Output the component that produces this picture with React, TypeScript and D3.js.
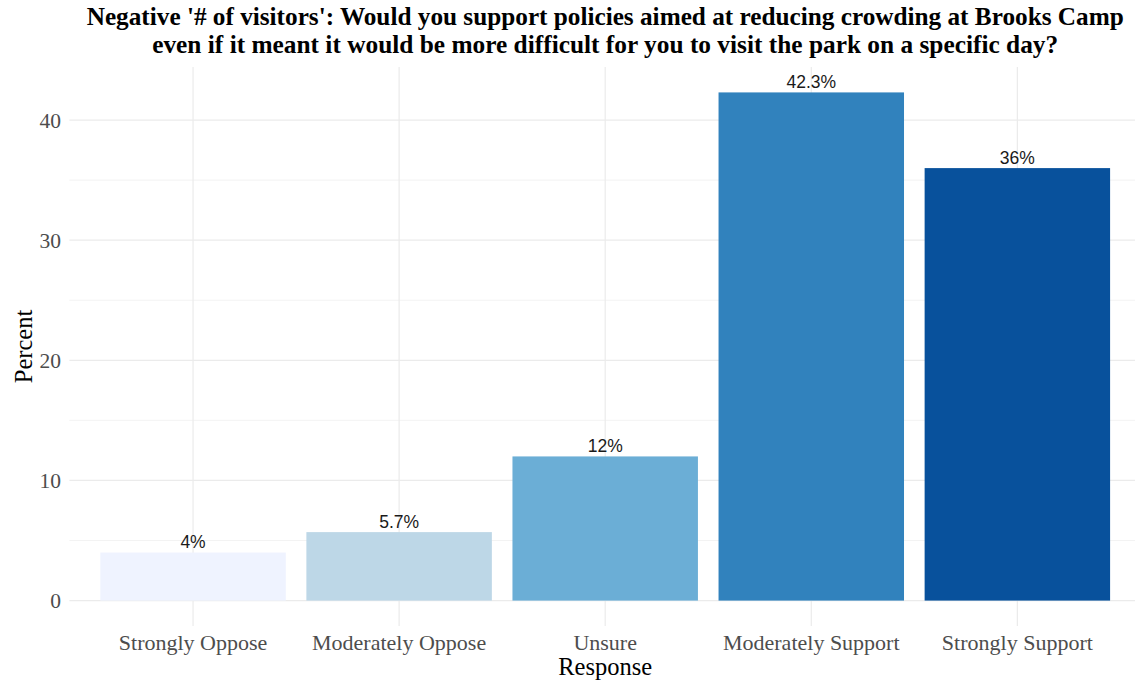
import React from "react";
import * as d3 from "d3";

const categories = ["Strongly Oppose", "Moderately Oppose", "Unsure", "Moderately Support", "Strongly Support"];
const values = [4, 5.7, 12, 42.3, 36];
const valueLabels = ["4%", "5.7%", "12%", "42.3%", "36%"];
const colors = ["#EFF3FF", "#BDD7E7", "#6BAED6", "#3182BD", "#08519C"];
const yTicks = [0, 10, 20, 30, 40];
const yMinor = [5, 15, 25, 35];
const titleLines = [
  "Negative '# of visitors': Would you support policies aimed at reducing crowding at Brooks Camp",
  "even if it meant it would be more difficult for you to visit the park on a specific day?",
];
const titleWidths = [1037, 906];

const W = 1135;
const H = 681;
const panel = { left: 69.4, right: 1141, top: 67, bottom: 626 };
const serif = "'Liberation Serif', 'Times New Roman', serif";
const sans = "'Liberation Sans', Arial, sans-serif";

export default function App() {
  const maxV = d3.max(values) as number;
  const pad = maxV * 0.05;
  const y = d3.scaleLinear().domain([-pad, maxV + pad]).range([panel.bottom, panel.top]);
  const x = d3.scaleBand<string>().domain(categories).range([panel.left, panel.right]).paddingInner(0.1).paddingOuter(0.15);
  const cx = (c: string) => (x(c) as number) + x.bandwidth() / 2;
  const titleX = (panel.left + panel.right) / 2;

  return (
    <svg width={W} height={H} style={{ position: "absolute", left: 0, top: 0, background: "#fff" }}>
      <rect x={0} y={0} width={W} height={H} fill="#fff" />
      {yMinor.map((t) => (
        <line key={"mi" + t} x1={panel.left} x2={panel.right} y1={y(t)} y2={y(t)} stroke="#EBEBEB" strokeWidth={0.6} />
      ))}
      {yTicks.map((t) => (
        <line key={"ma" + t} x1={panel.left} x2={panel.right} y1={y(t)} y2={y(t)} stroke="#EBEBEB" strokeWidth={1.2} />
      ))}
      {categories.map((c) => (
        <line key={"v" + c} x1={cx(c)} x2={cx(c)} y1={panel.top} y2={panel.bottom} stroke="#EBEBEB" strokeWidth={1.2} />
      ))}
      {categories.map((c, i) => (
        <rect key={"b" + c} x={x(c)} y={y(values[i])} width={x.bandwidth()} height={y(0) - y(values[i])} fill={colors[i]} />
      ))}
      {categories.map((c, i) => (
        <text key={"l" + c} x={cx(c)} y={y(values[i]) - 4.5} textAnchor="middle" fontFamily={sans} fontSize={17.5} fill="#1a1a1a">
          {valueLabels[i]}
        </text>
      ))}
      {yTicks.map((t) => (
        <text key={"yt" + t} x={61} y={y(t)} dy="0.35em" textAnchor="end" fontFamily={serif} fontSize={21.5} fill="#4D4D4D">
          {t}
        </text>
      ))}
      {categories.map((c) => (
        <text key={"xt" + c} x={cx(c)} y={650} textAnchor="middle" fontFamily={serif} fontSize={22} fill="#4D4D4D">
          {c}
        </text>
      ))}
      <text x={titleX} y={675} textAnchor="middle" fontFamily={serif} fontSize={24.5} fill="#000">
        Response
      </text>
      <text transform={`translate(32,${(panel.top + panel.bottom) / 2}) rotate(-90)`} textAnchor="middle" fontFamily={serif} fontSize={24.5} fill="#000">
        Percent
      </text>
      {titleLines.map((l, i) => (
        <text
          key={"t" + i}
          x={titleX - titleWidths[i] / 2}
          y={25 + i * 28}
          textLength={titleWidths[i]}
          lengthAdjust="spacingAndGlyphs"
          fontFamily={serif}
          fontWeight="bold"
          fontSize={25.4}
          fill="#000"
        >
          {l}
        </text>
      ))}
    </svg>
  );
}
